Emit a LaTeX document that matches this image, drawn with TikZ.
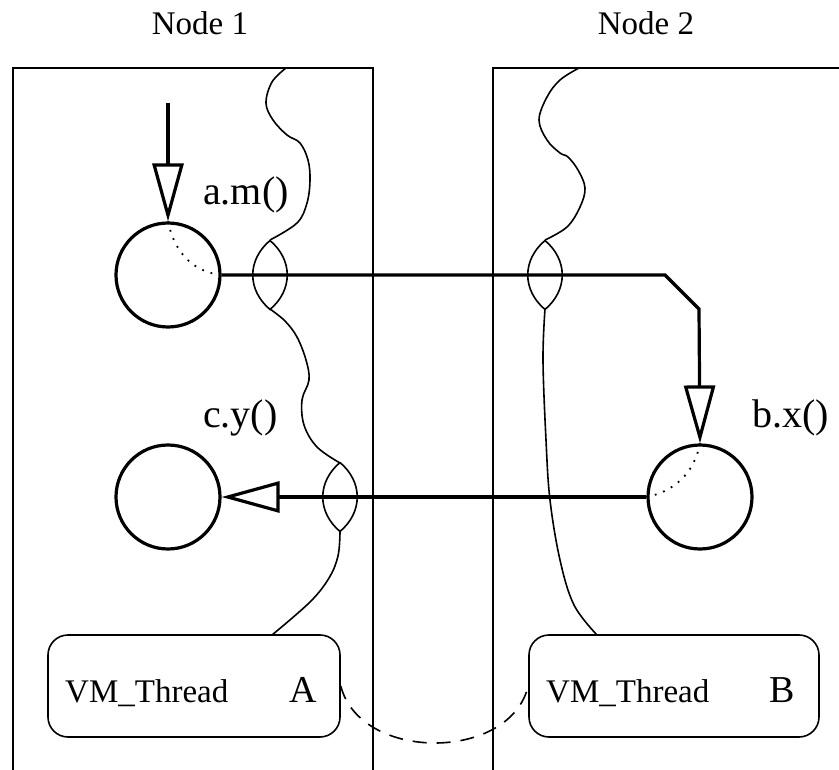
\documentclass[tikz,border=0pt]{standalone}
\usepackage{fontspec}
\setmainfont{Liberation Serif}
\usetikzlibrary{arrows.meta,calc}
\begin{document}
\begin{tikzpicture}[x=1pt,y=-1pt,
  thin line/.style={line width=1.6pt},
  thick line/.style={line width=3.2pt},
  method/.style={circle,draw,thick line,minimum size=104pt,inner sep=0pt},
  vmbox/.style={draw,thin line,rounded corners=20pt,minimum width=292pt,minimum height=102pt,inner sep=0pt},
  lbl/.style={font=\fontsize{33}{40}\selectfont,anchor=base,inner sep=0pt},
  mlbl/.style={font=\fontsize{40}{48}\selectfont,anchor=base west,inner sep=0pt},
  tlbl/.style={font=\fontsize{33}{40}\selectfont,anchor=base west,inner sep=0pt},
  big/.style={font=\fontsize{38}{46}\selectfont,anchor=base west,inner sep=0pt},
  opentip/.style={-{Triangle[open,length=58pt,width=31pt]}},
  sparsedots/.style={line width=1.8pt,dash pattern=on 1.8pt off 7pt},
  lens/.style={thin line}]
\useasboundingbox (0,0) rectangle (839,770);
\clip (0,0) rectangle (839,770);
% titles
\node[lbl] (n1) at (200,35) {Node 1};
\node[lbl] (n2) at (646,35) {Node 2};
% node boxes
\draw[thin line] (13,780) -- (13,68) -- (373,68) -- (373,780);
\draw[thin line] (493,780) -- (493,68) -- (850,68);
% methods
\node[method] (a) at (168,275) {};
\node[method] (b) at (700,497) {};
\node[method] (c) at (168,497) {};
\node[mlbl] (am) at (203,205) {a.m()};
\node[mlbl] (cy) at (203,428) {c.y()};
\node[mlbl] (bx) at (752,428) {b.x()};
% VM threads
\node[vmbox] (ta) at (194,686) {};
\node[vmbox,minimum width=290pt] (tb) at (674,686) {};
\node[tlbl] (tat) at (65,702) {VM\_Thread};
\node[big] (tal) at (289,702) {A};
\node[tlbl] (tbt) at (546,702) {VM\_Thread};
\node[big] (tbl) at (769,702) {B};
% lenses
\coordinate (l1) at (270,275);
\coordinate (l2) at (545,275);
\coordinate (l3) at (340,497);
\foreach \l in {l1,l2,l3}{
  \draw[lens] ($(\l)+(0,-34.5)$) .. controls +(-23,19.5) and +(-23,-19.5) .. ($(\l)+(0,34.5)$)
     .. controls +(23,-19.5) and +(23,19.5) .. ($(\l)+(0,-34.5)$);
}
% wavy thread lines
\draw[thin line] plot[smooth,tension=0.6] coordinates {(286,68) (272,82) (266,103) (273,120) (287,135) (300,143) (308,160) (310,180) (307,203) (297,223) (270,240)};
\draw[thin line] plot[smooth,tension=0.6] coordinates {(270,309) (285,321) (297,337) (306,360) (309,380) (302,400) (304,425) (317,447) (340,463)};
\draw[thin line] plot[smooth,tension=0.6] coordinates {(340,532) (338,556) (329,578) (310,602) (272,635)};
\draw[thin line] plot[smooth,tension=0.6] coordinates {(579,68) (560,80) (547,97) (539,120) (547,140) (560,153) (568,157) (578,170) (585,188) (580,207) (567,227) (545,240)};
\draw[thin line] plot[smooth,tension=0.6] coordinates {(545,309) (543,360) (546,440) (550,500) (560,560) (574,605) (597,635)};
% calls
\coordinate (in) at (168,103);
\draw[thick line,opentip] (in) -- (a.north);
\coordinate (k1) at (665,275);
\coordinate (k2) at (699,309);
\draw[thick line,opentip] (a.east) -- (k1) -- (k2) -- (b.north);
\draw[thick line,opentip] (b.west) -- (c.east);
% dotted continuations
\draw[sparsedots] (a.north) .. controls (175,255) and (195,272) .. (a.east);
\draw[sparsedots] (b.north) .. controls (694,475) and (672,492) .. (b.west);
% dashed link
\draw[thin line,dash pattern=on 14pt off 10pt] (ta.east) .. controls (360,762) and (510,762) .. (tb.west);
\end{tikzpicture}
\end{document}
